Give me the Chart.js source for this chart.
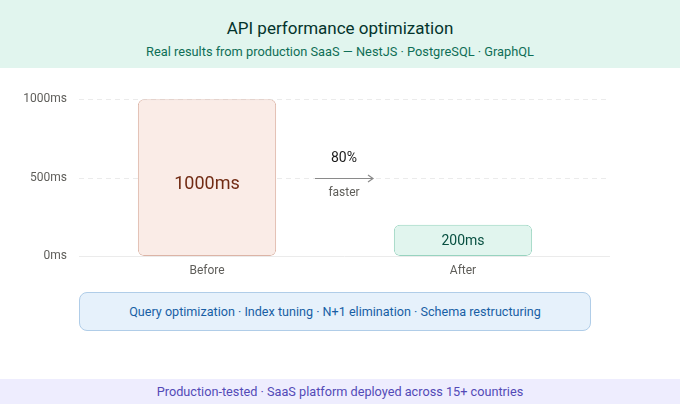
<!DOCTYPE html>
<html>
<head>
<meta charset="utf-8">
<script src="https://cdn.jsdelivr.net/npm/chart.js@4"></script>
<style>
    body{margin:0;width:680px;height:414px;background:#fff;font-family:Roboto,"Noto Sans",sans-serif;position:relative;overflow:hidden}
    .head{position:absolute;left:0;top:0;width:680px;height:68px;background:#e1f5ee;text-align:center}
    .head .t{position:absolute;left:0;right:0;top:18px;font-size:17px;font-weight:400;color:#04342c}
    .head .s{position:absolute;left:0;right:0;top:44px;font-size:12.8px;color:#0f6e56}
    #wrap{position:absolute;left:0;top:80px;width:680px;height:200px}
    .box{position:absolute;left:79px;top:292px;background:#e6f1fb;border:1px solid #b0cde8;border-radius:8px;box-sizing:border-box;width:512px;height:39px;line-height:37px;text-align:center;font-size:12.6px;color:#185fa5}
    .foot{position:absolute;left:0;top:379px;width:680px;height:25px;background:#eeedfe;line-height:25px;text-align:center;font-size:12.7px;color:#534ab7}
</style>
</head>
<body>
<div class="head">
    <div class="t">API performance optimization</div>
    <div class="s">Real results from production SaaS — NestJS · PostgreSQL · GraphQL</div>
</div>
<div id="wrap"><canvas id="c"></canvas></div>
<div class="box">Query optimization · Index tuning · N+1 elimination · Schema restructuring</div>
<div class="foot">Production-tested · SaaS platform deployed across 15+ countries</div>
<script>
const categories=["Before","After"];
const latencyMs=[1000,200];
const valueLabels=["1000ms","200ms"];
const yTicks=[0,500,1000];
const speedup="80%";
const speedupNote="faster";

const fills=["#faece7","#e1f5ee"];
const borders=["#dcb4a6","#97d3bf"];
const labelColors=["#712b13","#085041"];
const labelSizes=[18,14];
const labelShift=[6,0];

let overlay={
    id:"overlay",
    beforeDatasetsDraw(chart) {
        let ctx=chart.ctx,
            y=chart.scales.y,
            area=chart.chartArea;
        ctx.save();
        ctx.strokeStyle="#ebebeb";
        ctx.lineWidth=1;
        yTicks.forEach(v=>{
            let py=Math.round(y.getPixelForValue(v))+0.5;
            ctx.setLineDash(v===0 ? [] : [5,4]);
            ctx.beginPath();
            ctx.moveTo(area.left,py);
            ctx.lineTo(area.right+19,py);
            ctx.stroke();
        });
        ctx.restore();
    },
    afterDatasetsDraw(chart) {
        let ctx=chart.ctx,
            bars=chart.getDatasetMeta(0).data,
            y=chart.scales.y;
        ctx.save();
        ctx.textAlign="center";
        ctx.textBaseline="middle";
        bars.forEach((b,i)=>{
            ctx.fillStyle=labelColors[i];
            ctx.font=labelSizes[i]+"px Roboto, sans-serif";
            ctx.fillText(valueLabels[i],b.x,(b.y+b.base)/2+1+labelShift[i]);
        });

        // arrow between the two bars
        let mx=(bars[0].x+bars[1].x)/2+9,
            my=Math.round(y.getPixelForValue(500))+0.5;
        ctx.strokeStyle="#8a8a8a";
        ctx.lineWidth=1.2;
        ctx.beginPath();
        ctx.moveTo(mx-29,my);
        ctx.lineTo(mx+29,my);
        ctx.moveTo(mx+24,my-3.5);
        ctx.lineTo(mx+29,my);
        ctx.lineTo(mx+24,my+3.5);
        ctx.stroke();
        ctx.fillStyle="#1a1a1a";
        ctx.font="14px Roboto, sans-serif";
        ctx.fillText(speedup,mx,my-20);
        ctx.fillStyle="#5f5e5a";
        ctx.font="12px Roboto, sans-serif";
        ctx.fillText(speedupNote,mx,my+14);
        ctx.restore();
    }
};

new Chart(document.getElementById("c"),{
    type:"bar",
    data:{
        labels:categories,
        datasets:[{
            data:latencyMs,
            backgroundColor:fills,
            borderColor:borders,
            borderWidth:1,
            borderRadius:6,
            borderSkipped:false,
            categoryPercentage:1,
            barPercentage:0.54
        }]
    },
    options:{
        responsive:true,
        maintainAspectRatio:false,
        animation:false,
        layout:{padding:{top:19,right:89,left:0,bottom:0}},
        plugins:{legend:{display:false},tooltip:{enabled:false}},
        scales:{
            x:{
                grid:{display:false,drawTicks:false},
                border:{display:false},
                ticks:{color:"#5f5e5a",font:{family:"Roboto",size:12},padding:8},
                afterFit(s){s.height=24;}
            },
            y:{
                min:0,max:1000,
                grid:{display:false,drawTicks:false},
                border:{display:false},
                ticks:{stepSize:500,color:"#5f5e5a",font:{family:"Roboto",size:12},padding:12,
                    callback:v=>v+"ms"},
                afterFit(s){s.width=79;}
            }
        }
    },
    plugins:[overlay]
});
</script>
</body>
</html>
